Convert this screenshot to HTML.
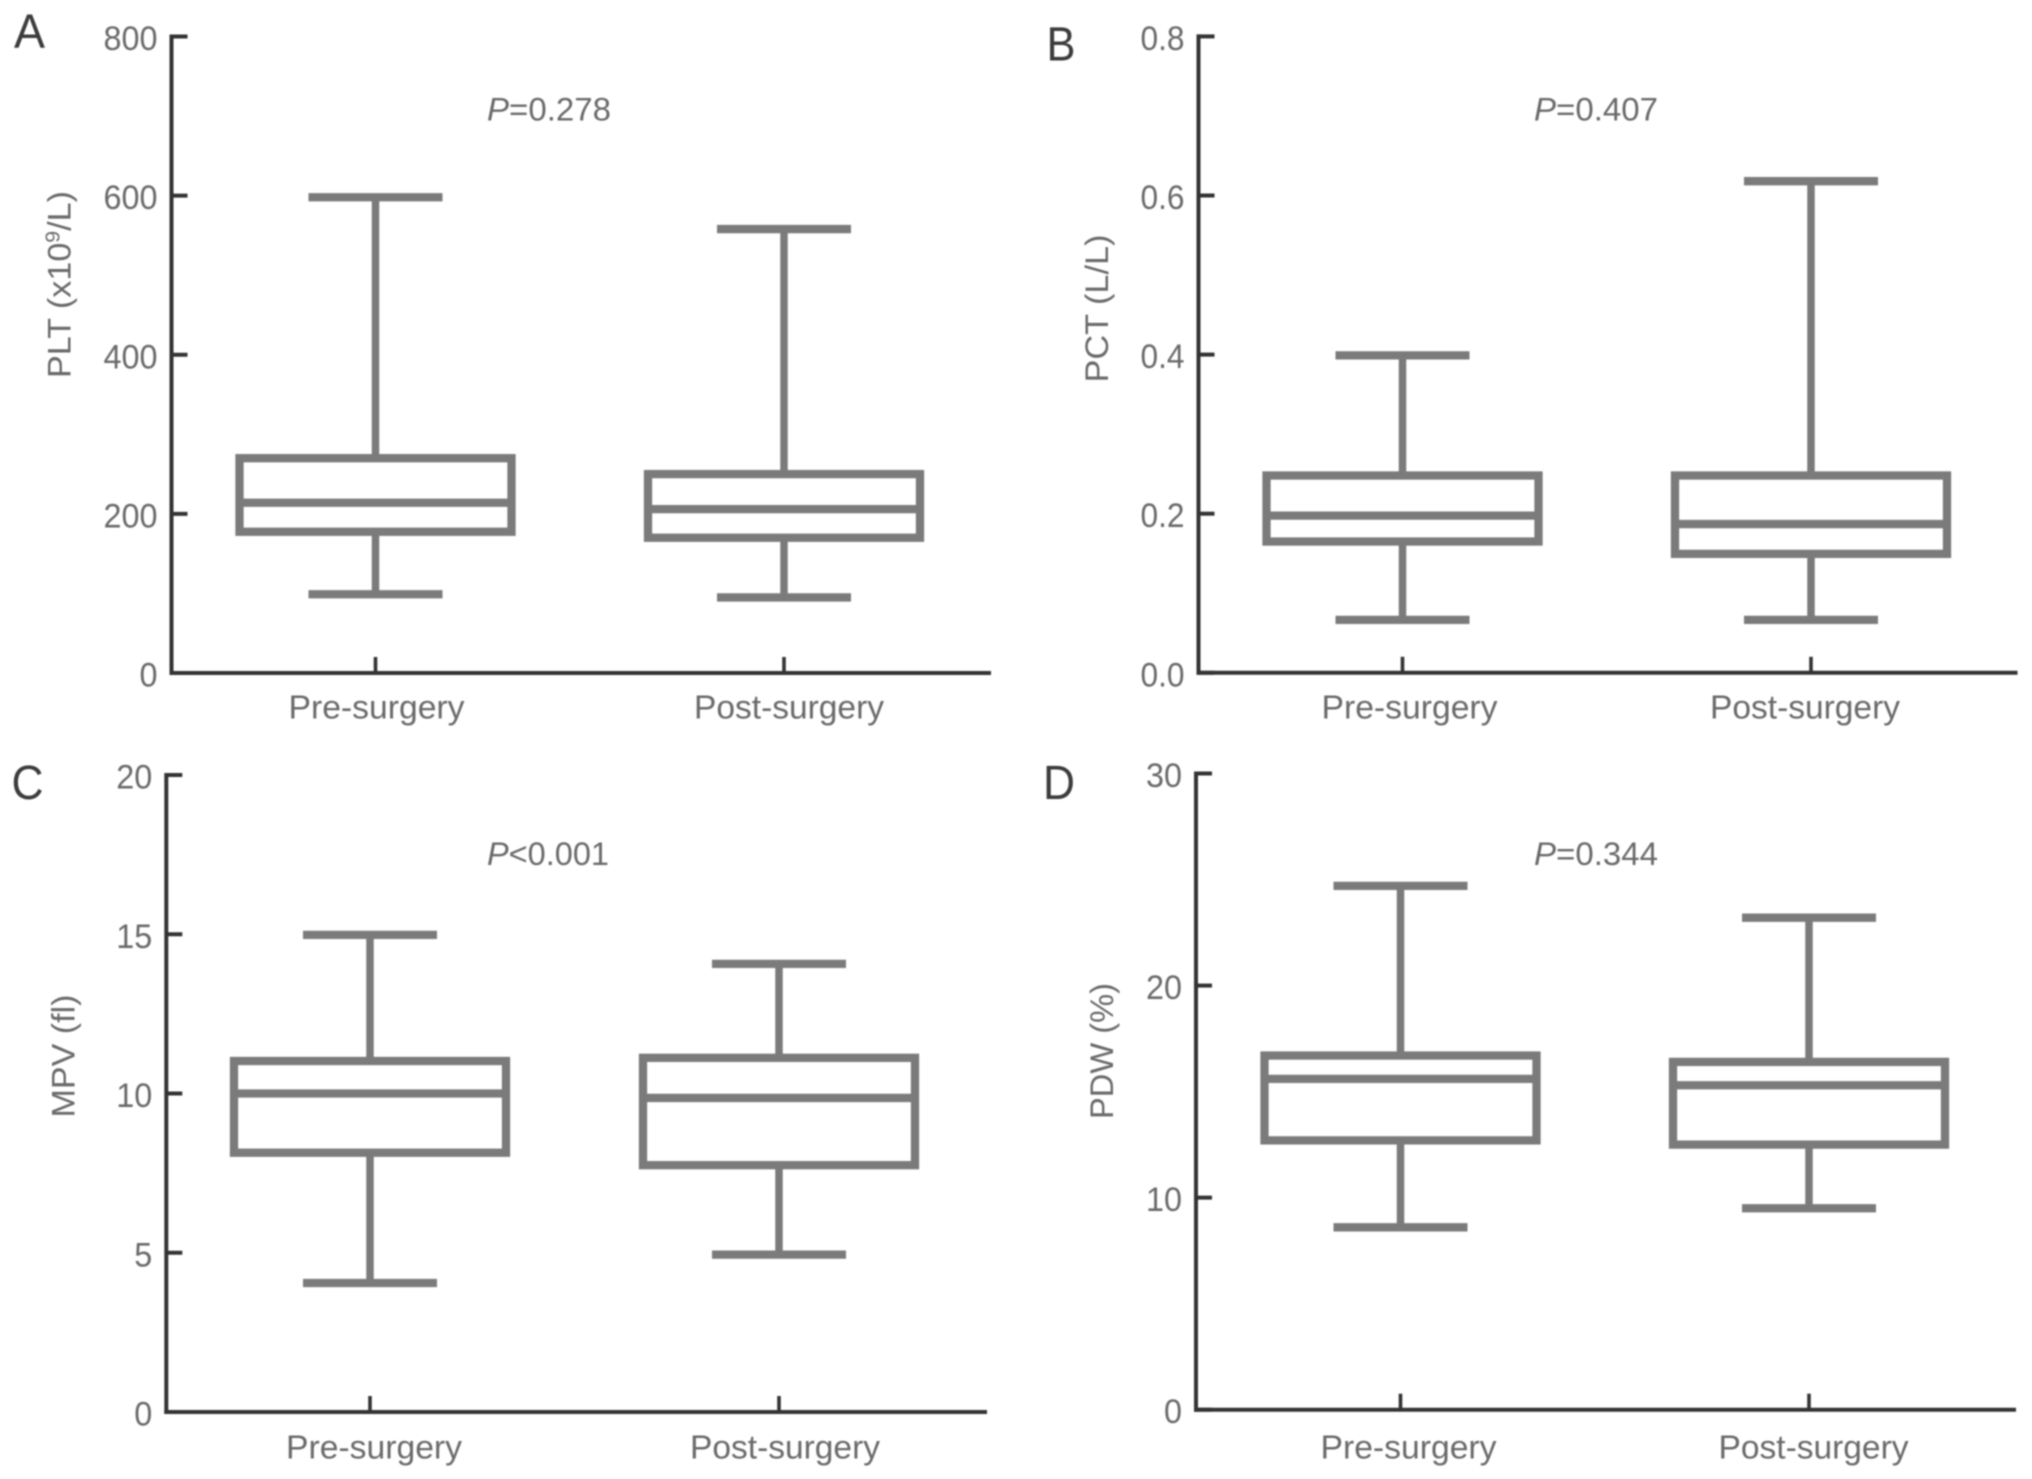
<!DOCTYPE html>
<html lang="en">
<head>
<meta charset="utf-8">
<title>Platelet parameters before and after surgery</title>
<style>
  html, body { margin: 0; padding: 0; background: #ffffff; }
  body { width: 2032px; height: 1479px; overflow: hidden; }
  svg { display: block; filter: blur(0.9px); }
  text { font-family: "Liberation Sans", sans-serif; fill: #6a6a6a; }
  .panel-letter { font-size: 48px; fill: #3c3c3c; }
  .p-value { font-size: 32px; }
  .y-title { font-size: 32px; }
  .tick-label { font-size: 34px; }
  .category-label { font-size: 33.5px; }
</style>
</head>
<body>
<svg id="figure" width="2032" height="1479" viewBox="0 0 2032 1479" xmlns="http://www.w3.org/2000/svg">
  <rect x="0" y="0" width="2032" height="1479" fill="#ffffff"/>

  <g id="panel-a">
    <text class="panel-letter" x="14" y="47.5" textLength="31" lengthAdjust="spacingAndGlyphs">A</text>
    <text class="p-value" x="487" y="120.5" textLength="124" lengthAdjust="spacingAndGlyphs"><tspan font-style="italic">P</tspan>=0.278</text>
    <text class="y-title" text-anchor="middle" transform="translate(70.5 284.5) rotate(-90)" textLength="187" lengthAdjust="spacingAndGlyphs">PLT (x10<tspan dy="-11" font-size="20">9</tspan><tspan dy="11">/L)</tspan></text>
  </g>

  <g id="panel-b">
    <text class="panel-letter" x="1046.5" y="60.5" textLength="29" lengthAdjust="spacingAndGlyphs">B</text>
    <text class="p-value" x="1534" y="120.5" textLength="124" lengthAdjust="spacingAndGlyphs"><tspan font-style="italic">P</tspan>=0.407</text>
    <text class="y-title" text-anchor="middle" transform="translate(1108 308.5) rotate(-90)" textLength="148" lengthAdjust="spacingAndGlyphs">PCT (L/L)</text>
  </g>

  <g id="panel-c">
    <text class="panel-letter" x="11.5" y="799" textLength="32" lengthAdjust="spacingAndGlyphs">C</text>
    <text class="p-value" x="487" y="865" textLength="122" lengthAdjust="spacingAndGlyphs"><tspan font-style="italic">P</tspan>&lt;0.001</text>
    <text class="y-title" text-anchor="middle" transform="translate(74.5 1056) rotate(-90)" textLength="123" lengthAdjust="spacingAndGlyphs">MPV (fl)</text>
  </g>

  <g id="panel-d">
    <text class="panel-letter" x="1043" y="799" textLength="32" lengthAdjust="spacingAndGlyphs">D</text>
    <text class="p-value" x="1534" y="865" textLength="124" lengthAdjust="spacingAndGlyphs"><tspan font-style="italic">P</tspan>=0.344</text>
    <text class="y-title" text-anchor="middle" transform="translate(1113 1051) rotate(-90)" textLength="136" lengthAdjust="spacingAndGlyphs">PDW (%)</text>
  </g>
</svg>

<script>
// ---- Chart data ----
const categories = ['Pre-surgery', 'Post-surgery'];

const pltTicks = ['0', '200', '400', '600', '800'];
const pltHigh = [598, 558];
const pltQ3 = [270, 250];
const pltMedian = [214, 206];
const pltQ1 = [177.5, 170];
const pltLow = [99, 95];

const pctTicks = ['0.0', '0.2', '0.4', '0.6', '0.8'];
const pctHigh = [0.399, 0.618];
const pctQ3 = [0.248, 0.248];
const pctMedian = [0.1976, 0.187];
const pctQ1 = [0.165, 0.1495];
const pctLow = [0.0665, 0.0665];

const mpvTicks = ['0', '5', '10', '15', '20'];
const mpvHigh = [14.98, 14.07];
const mpvQ3 = [11.02, 11.12];
const mpvMedian = [10.0, 9.86];
const mpvQ1 = [8.14, 7.75];
const mpvLow = [4.05, 4.94];

const pdwTicks = ['0', '10', '20', '30'];
const pdwHigh = [24.7, 23.2];
const pdwQ3 = [16.7, 16.4];
const pdwMedian = [15.6, 15.3];
const pdwQ1 = [12.7, 12.5];
const pdwLow = [8.6, 9.5];

// ---- Drawing ----
const SVG_NS = 'http://www.w3.org/2000/svg';
const BOX_GREY = '#7b7b7b';
const AXIS_DARK = '#333333';
const BOX_WIDTH = 8.3;
const WHISKER_WIDTH = 7.5;
const BOX_HALF = 136;
const CAP_HALF = 67;

function makeLine(parent, x1, y1, x2, y2, color, width) {
  const el = document.createElementNS(SVG_NS, 'line');
  el.setAttribute('x1', x1);
  el.setAttribute('y1', y1);
  el.setAttribute('x2', x2);
  el.setAttribute('y2', y2);
  el.setAttribute('stroke', color);
  el.setAttribute('stroke-width', width);
  parent.appendChild(el);
  return el;
}

function makeText(parent, x, y, content, cssClass, anchor, length) {
  const el = document.createElementNS(SVG_NS, 'text');
  el.setAttribute('x', x);
  el.setAttribute('y', y);
  el.setAttribute('class', cssClass);
  el.setAttribute('text-anchor', anchor);
  el.setAttribute('textLength', length);
  el.setAttribute('lengthAdjust', 'spacingAndGlyphs');
  el.textContent = content;
  parent.appendChild(el);
  return el;
}

function tickLabelWidth(label) {
  let w = 0;
  for (const ch of label) w += ch === '.' ? 8 : 18;
  return w;
}

function drawPanel(groupId, frame, ticks, high, q3, median, q1, low) {
  const group = document.getElementById(groupId);
  const maxValue = parseFloat(ticks[ticks.length - 1]);
  const yScale = function (v) {
    return frame.zeroY - (v / maxValue) * (frame.zeroY - frame.topY);
  };
  const xScale = function (i) {
    return frame.firstX + i * (frame.secondX - frame.firstX);
  };

  // Axes
  const yAxis = makeLine(group, frame.axisX, frame.topY - 2, frame.axisX, frame.zeroY + 2, AXIS_DARK, 4);
  
  
  const xAxis = makeLine(group, frame.axisX - 2, frame.zeroY, frame.rightX, frame.zeroY, AXIS_DARK, 4);
  
  

  // Y ticks and their labels
  ticks.forEach(function (label) {
    const y = yScale(parseFloat(label));
    const tick = makeLine(group, frame.axisX, y, frame.axisX + 16, y, AXIS_DARK, 4);
    
    
    const text = makeText(group, frame.axisX - 14, y + 13.5, label, 'tick-label', 'end', tickLabelWidth(label));
    
    
  });

  // Categories: x tick, label, box and whiskers
  categories.forEach(function (name, i) {
    const cx = xScale(i);
    const tick = makeLine(group, cx, frame.zeroY - 16, cx, frame.zeroY, AXIS_DARK, 3.6);
    
    

    const labelX = cx + (i === 0 ? frame.preOffset : frame.postOffset);
    const labelLen = i === 0 ? 176 : 190;
    const label = makeText(group, labelX, frame.labelY, name, 'category-label', 'middle', labelLen);
    
    

    const boxGroup = document.createElementNS(SVG_NS, 'g');
    
    
    group.appendChild(boxGroup);

    const upper = makeLine(boxGroup, cx, yScale(high[i]), cx, yScale(q3[i]), BOX_GREY, WHISKER_WIDTH);
    
    
    const lower = makeLine(boxGroup, cx, yScale(q1[i]), cx, yScale(low[i]), BOX_GREY, WHISKER_WIDTH);
    
    
    const capHigh = makeLine(boxGroup, cx - CAP_HALF, yScale(high[i]), cx + CAP_HALF, yScale(high[i]), BOX_GREY, BOX_WIDTH);
    
    
    const capLow = makeLine(boxGroup, cx - CAP_HALF, yScale(low[i]), cx + CAP_HALF, yScale(low[i]), BOX_GREY, BOX_WIDTH);
    
    

    const box = document.createElementNS(SVG_NS, 'rect');
    box.setAttribute('x', cx - BOX_HALF);
    box.setAttribute('y', yScale(q3[i]));
    box.setAttribute('width', BOX_HALF * 2);
    box.setAttribute('height', yScale(q1[i]) - yScale(q3[i]));
    box.setAttribute('fill', '#ffffff');
    box.setAttribute('stroke', BOX_GREY);
    box.setAttribute('stroke-width', BOX_WIDTH);
    
    
    boxGroup.appendChild(box);

    const med = makeLine(boxGroup, cx - BOX_HALF, yScale(median[i]), cx + BOX_HALF, yScale(median[i]), BOX_GREY, BOX_WIDTH);
    
    
  });
}

drawPanel('panel-a',
  { axisX: 171.5, topY: 36.5, zeroY: 673, rightX: 991, firstX: 375.5, secondX: 784, labelY: 718.5, preOffset: 1, postOffset: 5 },
  pltTicks, pltHigh, pltQ3, pltMedian, pltQ1, pltLow);
drawPanel('panel-b',
  { axisX: 1198.5, topY: 36.4, zeroY: 672.8, rightX: 2017.5, firstX: 1402.5, secondX: 1811, labelY: 718.5, preOffset: 7, postOffset: -6 },
  pctTicks, pctHigh, pctQ3, pctMedian, pctQ1, pctLow);
drawPanel('panel-c',
  { axisX: 166.3, topY: 775, zeroY: 1412, rightX: 987, firstX: 370, secondX: 779, labelY: 1458.5, preOffset: 4, postOffset: 6 },
  mpvTicks, mpvHigh, mpvQ3, mpvMedian, mpvQ1, mpvLow);
drawPanel('panel-d',
  { axisX: 1196, topY: 773.5, zeroY: 1409.7, rightX: 2016, firstX: 1400.5, secondX: 1809, labelY: 1458.5, preOffset: 8, postOffset: 4.5 },
  pdwTicks, pdwHigh, pdwQ3, pdwMedian, pdwQ1, pdwLow);
</script>
</body>
</html>
